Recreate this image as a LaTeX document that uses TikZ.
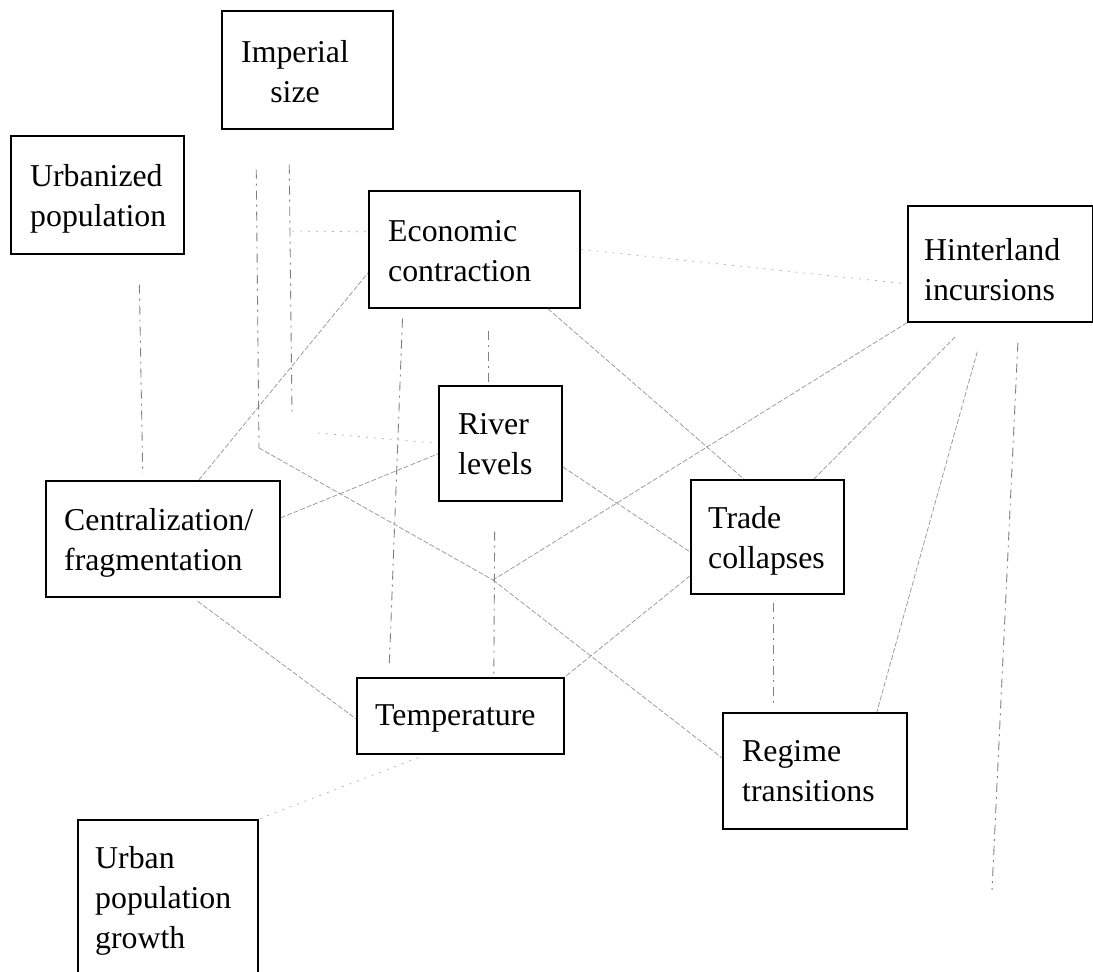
\documentclass[tikz,border=0pt]{standalone}
\usepackage{fontspec}
\setmainfont{Liberation Serif}
\usetikzlibrary{calc}
\begin{document}
\begin{tikzpicture}[x=1pt,y=-1pt,
  box/.style={draw, line width=1.7pt, anchor=north west, inner sep=0pt},
  txt/.style={anchor=base west, inner sep=0pt, font=\fontsize{31.8}{40}\selectfont},
  vdash/.style={draw=black!50, line width=0.9pt, dash pattern=on 9pt off 5pt on 2pt off 5pt},
  ddash/.style={draw=black!42, line width=0.7pt, dash pattern=on 5pt off 2pt},
  faint/.style={draw=black!30, line width=0.7pt, dash pattern=on 2pt off 6pt}]
\useasboundingbox (0,0) rectangle (1093,972);
\fill[white] (0,0) rectangle (1093,972);

% boxes
\node[box, minimum width=171pt, minimum height=118pt] (imp) at (221,10) {};
\node[box, minimum width=173pt, minimum height=118pt] (urbd) at (10,135) {};
\node[box, minimum width=211pt, minimum height=117pt] (econ) at (368,190) {};
\node[box, minimum width=185pt, minimum height=116pt] (hint) at (907,205) {};
\node[box, minimum width=123pt, minimum height=115pt] (river) at (438,385) {};
\node[box, minimum width=234pt, minimum height=116pt] (cent) at (45,480) {};
\node[box, minimum width=153pt, minimum height=114pt] (trade) at (690,479) {};
\node[box, minimum width=207pt, minimum height=76pt] (temp) at (356,677) {};
\node[box, minimum width=184pt, minimum height=116pt] (regime) at (722,712) {};
\node[box, minimum width=180pt, minimum height=170pt] (urban) at (77,819) {};

% texts
\node[txt] (imp-t) at (241,62) {\begin{tabular}[t]{@{}c@{}}Imperial\\size\end{tabular}};
\node[txt] (urbd-t) at (30,186) {\begin{tabular}[t]{@{}l@{}}Urbanized\\population\end{tabular}};
\node[txt] (econ-t) at (388,241) {\begin{tabular}[t]{@{}l@{}}Economic\\contraction\end{tabular}};
\node[txt] (hint-t) at (924,260) {\begin{tabular}[t]{@{}l@{}}Hinterland\\incursions\end{tabular}};
\node[txt] (river-t) at (458,434) {\begin{tabular}[t]{@{}l@{}}River\\levels\end{tabular}};
\node[txt] (cent-t) at (64,530) {\begin{tabular}[t]{@{}l@{}}Centralization/\\fragmentation\end{tabular}};
\node[txt] (trade-t) at (708,528) {\begin{tabular}[t]{@{}l@{}}Trade\\collapses\end{tabular}};
\node[txt] (temp-t) at (375,725) {Temperature};
\node[txt] (regime-t) at (742,761) {\begin{tabular}[t]{@{}l@{}}Regime\\transitions\end{tabular}};
\node[txt] (urban-t) at (95,868) {\begin{tabular}[t]{@{}l@{}}Urban\\population\\growth\end{tabular}};

% free points
\coordinate (J) at (493,580);
\coordinate (elbow) at (259,448);
\coordinate (l3end) at (292,415);
\coordinate (h1) at (292,231);
\coordinate (h2) at (318,433);
\coordinate (hend) at (992,890);

% vertical dashed connectors
\draw[vdash, shorten <=30pt, shorten >=6pt] ($(urbd.south)+(41.5,0)$) -- ($(cent.north)+(-20,0)$);
\draw[vdash, shorten <=40pt] ($(imp.south)+(-51.5,0)$) -- (elbow);
\draw[vdash, shorten <=35pt] ($(imp.south)+(-18.5,0)$) -- (l3end);
\draw[vdash, shorten <=22pt] ($(econ.south)+(14.5,0)$) -- ($(river.north)+(-11.5,0)$);
\draw[vdash, shorten <=10pt, shorten >=14pt] ($(econ.south)+(-71.5,0)$) -- ($(temp.north)+(-71.5,0)$);
\draw[vdash, shorten <=30pt] ($(river.south)+(-5.5,0)$) -- ($(temp.north)+(33.5,0)$);
\draw[vdash, shorten <=20pt] ($(hint.south)+(18.5,0)$) -- (hend);
\draw[vdash, shorten <=8pt, shorten >=8pt] ($(trade.south)+(6.5,0)$) -- ($(regime.north)+(-41,0)$);

% diagonal connectors
\draw[ddash] (elbow) -- (J);
\draw[ddash] ($(cent.north)+(36,0)$) -- ($(econ.west)+(0,23.5)$);
\draw[ddash] ($(cent.east)+(0,-21)$) -- ($(river.west)+(0,10.5)$);
\draw[ddash, shorten <=6pt] ($(cent.south)+(30,0)$) -- ($(temp.west)+(0,3)$);
\draw[ddash] ($(river.east)+(0,23.5)$) -- ($(trade.west)+(0,15)$);
\draw[ddash] ($(econ.south)+(73.5,0)$) -- ($(trade.north)+(-23.5,0)$);
\draw[ddash] (hint.south west) -- (J);
\draw[ddash] (J) -- ($(regime.west)+(0,-13)$);
\draw[ddash, shorten <=20pt] ($(hint.south)+(-31,0)$) -- ($(trade.north)+(46.5,0)$);
\draw[ddash, shorten <=30pt] ($(hint.south)+(-15,0)$) -- ($(regime.north)+(62,0)$);
\draw[ddash] ($(trade.west)+(0,39)$) -- (temp.north east);

% faint connectors
\draw[faint] (h1) -- ($(econ.west)+(0,-17.5)$);
\draw[faint] (h2) -- (river.west);
\draw[faint, shorten <=8pt] ($(temp.south)+(-34.5,0)$) -- (urban.north east);
\draw[faint] (econ.east) -- ($(hint.west)+(0,20)$);
\end{tikzpicture}
\end{document}
